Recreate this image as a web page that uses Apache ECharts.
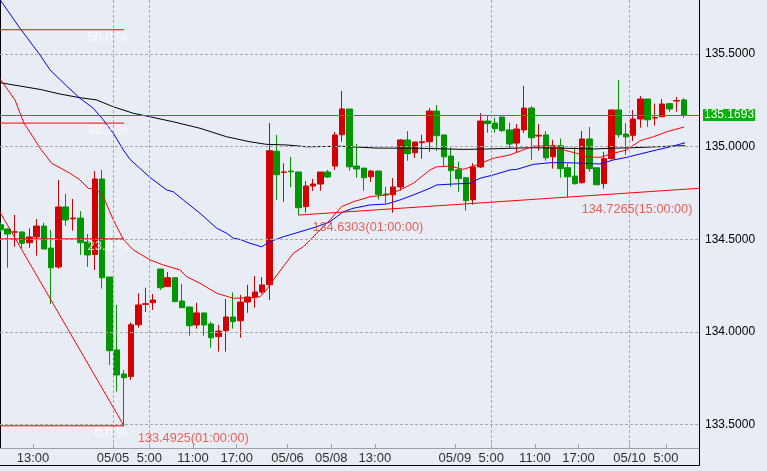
<!DOCTYPE html>
<html><head><meta charset="utf-8">
<script src="https://cdn.jsdelivr.net/npm/echarts@6/dist/echarts.min.js"></script>
<style>html,body{margin:0;padding:0;background:#E8ECF4;overflow:hidden}#c{width:767px;height:471px}</style>
</head><body><div id="c"></div>
<script>
// hourly candles, index 0 = 05/04 08:00 ... index 94 = 05/10 07:00
const open  = [134.578,134.555,134.538,134.539,134.481,134.512,134.571,134.452,134.350,134.674,134.610,134.614,134.485,134.418,134.825,134.296,133.902,133.772,133.758,134.038,134.148,134.157,134.339,134.244,134.292,134.166,134.134,134.037,134.102,134.042,133.974,134.006,134.080,134.060,134.161,134.188,134.215,134.254,134.975,134.861,134.868,134.863,134.676,134.787,134.798,134.863,134.895,135.064,135.203,134.895,134.884,134.837,134.868,134.744,134.740,134.782,135.036,134.967,135.021,135.026,135.192,135.063,134.949,134.875,134.832,134.713,134.890,135.138,135.127,135.160,135.090,135.019,135.090,135.208,135.057,135.063,134.945,135.005,134.886,134.841,134.805,135.041,134.886,134.800,134.935,135.198,135.068,135.061,135.149,135.257,135.154,135.161,135.232,135.246,135.252];
const close = [134.551,134.528,134.540,134.478,134.512,134.571,134.447,134.346,134.674,134.604,134.614,134.481,134.415,134.825,134.292,133.898,133.767,133.752,134.038,134.145,134.152,134.172,134.238,134.292,134.163,134.130,134.033,134.102,134.037,133.968,134.004,134.080,134.055,134.161,134.188,134.215,134.253,134.978,134.848,134.863,134.864,134.670,134.787,134.798,134.863,134.836,135.063,135.203,134.891,134.879,134.832,134.868,134.742,134.739,134.782,135.036,134.962,135.025,135.026,135.192,135.059,134.945,134.870,134.827,134.708,134.890,135.138,135.124,135.097,135.086,135.014,135.095,135.208,135.048,135.061,134.940,135.005,134.881,134.837,134.800,135.041,134.881,134.794,134.935,135.198,135.064,135.053,135.149,135.257,135.145,135.157,135.230,135.203,135.249,135.1693];
const low   = [134.540,134.346,134.459,134.449,134.454,134.411,134.447,134.150,134.341,134.573,134.546,134.415,134.350,134.334,134.233,133.821,133.677,133.4925,133.740,134.022,134.107,134.118,134.226,134.244,134.160,134.130,133.979,134.017,133.979,133.914,133.893,133.893,134.017,133.968,134.103,134.130,134.204,134.172,134.713,134.702,134.780,134.6303,134.643,134.760,134.762,134.830,134.874,135.026,134.870,134.832,134.762,134.809,134.715,134.694,134.643,134.762,134.924,134.938,134.935,134.972,134.978,134.891,134.783,134.756,134.654,134.686,134.884,135.075,135.075,135.080,134.989,134.971,135.073,134.929,134.978,134.924,134.881,134.832,134.7265,134.794,134.800,134.864,134.794,134.773,134.930,135.048,134.955,135.030,135.102,135.107,135.113,135.161,135.188,135.188,135.156];
const high  = [134.590,134.558,134.631,134.541,134.559,134.609,134.589,134.550,134.820,134.744,134.717,134.652,134.528,134.868,134.874,134.296,134.145,133.794,134.051,134.208,134.238,134.204,134.339,134.323,134.292,134.258,134.134,134.157,134.102,134.053,134.037,134.177,134.213,134.199,134.254,134.301,134.296,135.127,135.063,134.910,134.944,134.863,134.814,134.825,134.863,134.874,135.079,135.300,135.203,135.014,134.884,134.874,134.868,134.782,134.830,135.041,135.084,135.025,135.064,135.208,135.225,135.063,134.994,134.918,134.832,134.911,135.181,135.171,135.156,135.160,135.129,135.122,135.327,135.219,135.122,135.084,135.037,135.043,134.908,134.998,135.084,135.106,134.886,134.972,135.198,135.360,135.127,135.198,135.273,135.257,135.232,135.257,135.232,135.268,135.262];

// moving averages: [candle index, value]
const maShort = [[0,135.363],[2.03,135.252],[2.71,135.181],[3.26,135.127],[4.5,135.052],[5.46,134.992],[7.07,134.910],[9.59,134.856],[10.96,134.820],[12.1,134.775],[13.26,134.769],[14.17,134.729],[15.54,134.604],[16.92,134.499],[18.29,134.442],[20.59,134.388],[22.4,134.361],[24.71,134.334],[25.6,134.298],[27.46,134.262],[29.76,134.208],[32.04,134.181],[34.33,134.184],[35.71,134.189],[36.4,134.217],[37.54,134.280],[38.91,134.352],[40.29,134.424],[41.66,134.460],[43.5,134.532],[45.33,134.604],[46.94,134.676],[48.53,134.702],[50.83,134.729],[53.13,134.739],[54.95,134.766],[56.78,134.802],[59.08,134.874],[60,134.891],[61.83,134.895],[63.66,134.877],[65.5,134.901],[67.78,134.937],[70.08,134.955],[71.91,134.982],[73.28,135.003],[75.58,135.003],[77.41,134.982],[79.25,134.964],[80.62,134.945],[82.45,134.942],[84.28,134.964],[86.12,134.982],[87.95,135.032],[89.78,135.053],[91.62,135.080],[94,135.106]];
const maMid = [[0,135.792],[2.71,135.639],[5.46,135.495],[6.84,135.414],[9.13,135.327],[10.96,135.261],[12.79,135.207],[14.17,135.144],[15.54,135.072],[16.92,134.982],[17.84,134.931],[20.59,134.833],[22.88,134.766],[23.79,134.756],[25.16,134.712],[27.46,134.640],[29.76,134.559],[31.13,134.532],[32.04,134.505],[32.96,134.499],[34.33,134.478],[35.94,134.459],[37.08,134.487],[38.91,134.513],[41.21,134.540],[43.5,134.567],[45.33,134.594],[47.16,134.648],[48.53,134.667],[50.83,134.685],[53.13,134.690],[54.95,134.712],[56.78,134.739],[59.08,134.775],[60,134.793],[62.28,134.798],[64.58,134.802],[65.95,134.829],[67.78,134.847],[70.08,134.874],[71,134.877],[73.28,134.904],[75.58,134.913],[77.87,134.913],[80.15,134.910],[82.45,134.906],[84.28,134.928],[86.12,134.942],[87.95,134.960],[90.24,134.982],[92.53,135.003],[94.14,135.021]];
const maLong = [[0,135.345],[2.71,135.327],[5.46,135.309],[8.21,135.284],[10.96,135.264],[13.26,135.252],[15.54,135.215],[18.29,135.180],[20.59,135.161],[23.79,135.134],[27.46,135.099],[31.13,135.053],[34.33,135.026],[36.63,135.012],[39.38,135.009],[42.13,134.999],[46.71,135.002],[51.75,134.992],[57.7,134.991],[63.66,134.985],[66.87,134.987],[70.08,134.991],[73.28,134.994],[77.87,134.991],[81.53,134.987],[83.82,134.991],[87.03,134.994],[90.7,135.000],[94.14,135.005]];

// x-axis ticks (candle boundaries) and labels
const tickPos  = [4.5,15.5,20.5,26.5,32.5,39.5,45.5,51.5,62.5,67.5,73.5,79.5,86.5,91.5];
const tickText = ['13:00','05/05','5:00','11:00','17:00','05/06','05/08','13:00','05/09','5:00','11:00','17:00','05/10','5:00'];
const yTicks = [133.5,134.0,134.5,135.0,135.5];
const vGrid = [15.5,20.5,67.5,86.5];

// fibonacci retracement & trend lines
const fibLevels = [133.4925,134.502,135.127,135.631];
const fibText = ['0.0 %','23.6 %','38.2 %','50.0 %'];
const fibEnd = 17;
const fibDiag = [[-1,134.711],[17,133.4925]];
const supportLine = [[41,134.6303],[96.5,134.776]];
const priceMarks = [[17,133.4925,'133.4925(01:00:00)'],[41,134.6303,'134.6303(01:00:00)'],[78,134.7265,'134.7265(15:00:00)']];
const lastPrice = 135.1693;

const candles = open.map((o,i)=>[i,o,close[i],low[i],high[i]]);
const labelMap = {};
tickPos.forEach((p,i)=>labelMap[p.toFixed(1)] = tickText[i]);

const RED='#FF0000', UP='#D20000', DOWN='#009600';
const font = 'Liberation Sans';
const redLine = (name,data)=>({type:'line',name,data,symbol:'none',silent:true,clip:true,
  lineStyle:{color:RED,width:1},z:5});

const series = [
  {type:'candlestick',data:candles,encode:{x:0,y:[1,2,3,4]},barWidth:6,
   itemStyle:{color:UP,color0:DOWN,borderColor:UP,borderColor0:DOWN,borderWidth:1},z:2,
   markLine:{silent:true,symbol:'none',animation:false,
     lineStyle:{color:'#A8A8A8',type:[3,2],width:1},label:{show:false},
     data:[...yTicks.map(v=>({yAxis:v})),...vGrid.map(v=>({xAxis:v}))]}},
  {type:'line',name:'ma-long',data:maLong,symbol:'none',silent:true,lineStyle:{color:'#000',width:1},z:4},
  {type:'line',name:'ma-mid',data:maMid,symbol:'none',silent:true,lineStyle:{color:'#0000FF',width:1},z:4},
  {type:'line',name:'ma-short',data:maShort,symbol:'none',silent:true,lineStyle:{color:RED,width:1},z:4},
  redLine('fib-diag',fibDiag),
  redLine('support',supportLine),
  ...fibLevels.map((v,i)=>redLine('fib'+i,[[-1,v],[fibEnd,v]])),
  {type:'line',name:'last',data:[],symbol:'none',silent:true,z:6,
   markLine:{silent:true,symbol:'none',animation:false,lineStyle:{color:'#00AA00',type:'solid',width:1},
     label:{show:true,position:'end',distance:4,formatter:lastPrice.toFixed(4),color:'#fff',
       backgroundColor:'#00B400',padding:[0,1,0,1],fontFamily:font,fontSize:12,lineHeight:12},
     data:[{yAxis:lastPrice}]}},
  {type:'scatter',name:'fib-labels',symbol:'circle',symbolSize:0,silent:true,z:7,
   data:fibLevels.map((v,i)=>({value:[fibEnd,v],name:fibText[i]})),
   label:{show:true,formatter:p=>p.name,position:[4,1],align:'right',verticalAlign:'top',
     color:'#FFFFFF',fontFamily:font,fontSize:13}},
  {type:'scatter',name:'price-labels',symbol:'circle',symbolSize:0,silent:true,z:7,
   data:priceMarks.map(m=>({value:[m[0],m[1]],name:m[2]})),
   label:{show:true,formatter:p=>p.name,position:[14,6],align:'left',verticalAlign:'top',
     color:'#F03A2A',fontFamily:font,fontSize:12.7}}
];

const chart = echarts.init(document.getElementById('c'),null,{renderer:'canvas'});
chart.setOption({
  animation:false,
  backgroundColor:'#E8ECF4',
  grid:{left:0,right:68,top:0,bottom:23,containLabel:false},
  xAxis:{type:'value',min:-0.036,max:96.06,position:'bottom',
    axisLine:{show:true,lineStyle:{color:'#A0A0A0',width:1}},
    axisTick:{show:true,inside:true,length:4,customValues:tickPos,lineStyle:{color:'#A0A0A0'}},
    axisLabel:{customValues:tickPos,formatter:v=>labelMap[Number(v).toFixed(1)]||'',
      color:'#303030',fontFamily:font,fontSize:13,margin:4},
    splitLine:{show:false}},
  yAxis:{type:'value',position:'right',min:133.3726,max:135.7916,scale:true,
    axisLine:{show:true,lineStyle:{color:'#000',width:1}},
    axisTick:{show:false,customValues:yTicks},
    axisLabel:{customValues:yTicks,formatter:v=>Number(v).toFixed(4),color:'#000',
      fontFamily:font,fontSize:12,margin:6},
    splitLine:{show:false}},
  graphic:[{type:'polyline',silent:true,z:10,
    shape:{points:[[0,465.5],[699.5,465.5],[699.5,0]]},style:{stroke:'#000',lineWidth:1,fill:null}}],
  series
});
</script></body></html>
